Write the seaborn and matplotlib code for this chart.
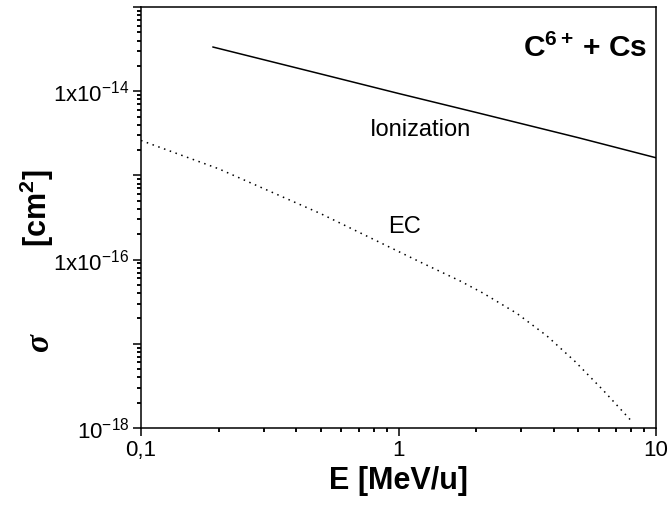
import numpy as np
import pandas as pd
import matplotlib
matplotlib.use('Agg')
import matplotlib.pyplot as plt
import matplotlib.markers as mmarkers
import seaborn as sns

# --- data (E in MeV/u, sigma in cm^2) ---
ion_E = [0.19, 0.5, 1.0, 2.0, 5.0, 10.0]
ion_sigma = [3.35e-14, 1.6e-14, 9.4e-15, 5.6e-15, 2.8e-15, 1.62e-15]

ec_E = [0.1, 0.2, 0.5, 1.21, 1.73, 2.13, 2.88, 3.76, 4.84, 6.24, 8.05]
ec_sigma = [2.6e-15, 1.2e-15, 3.5e-16, 9.4e-17, 5.6e-17, 4.0e-17, 2.3e-17,
            1.25e-17, 6.2e-18, 2.8e-18, 1.2e-18]

x_ticks = [0.1, 1, 10]
x_ticklabels = ['0,1', '1', '10']
y_ticks = [1e-18, 1e-17, 1e-16, 1e-15, 1e-14, 1e-13]
y_ticklabels = [r'$\mathregular{10^{-18}}$', '', r'$\mathregular{1x10^{-16}}$', '',
                r'$\mathregular{1x10^{-14}}$', '']

df_ion = pd.DataFrame({'E': ion_E, 'sigma': ion_sigma})
df_ec = pd.DataFrame({'E': ec_E, 'sigma': ec_sigma})

sns.set_style('ticks')
plt.rcParams['font.family'] = ['Liberation Sans', 'DejaVu Sans']
plt.rcParams['axes.linewidth'] = 1.1
plt.rcParams['text.color'] = 'black'

fig = plt.figure(figsize=(6.71, 5.12), dpi=100)
ax = fig.add_axes([141/671, 1-428/512, (656-141)/671, (428-7)/512])

sns.lineplot(data=df_ion, x='E', y='sigma', ax=ax, color='black', lw=1.1,
             estimator=None, sort=False)
sns.lineplot(data=df_ec, x='E', y='sigma', ax=ax, color='black', lw=1.1,
             ls=(0, (1, 3)), estimator=None, sort=False)

ax.set_xscale('log'); ax.set_yscale('log')

# ticks: majors every decade, minor 2..9 in every decade
minor_x = [m * 10.0**k for k in range(-1, 1) for m in range(2, 10)]
minor_y = [m * 10.0**k for k in range(-18, -13) for m in range(2, 10)]
ax.set_xticks(x_ticks); ax.set_xticklabels(x_ticklabels)
ax.set_xticks(minor_x, minor=True)
ax.set_yticks(y_ticks); ax.set_yticklabels(y_ticklabels)
ax.set_yticks(minor_y, minor=True)
ax.set_xticklabels([], minor=True); ax.set_yticklabels([], minor=True)

# minor tick marks drawn as markers on the spines, so they always show
ax.plot(minor_x, [0] * len(minor_x), transform=ax.get_xaxis_transform(),
        marker=mmarkers.TICKDOWN, ms=3.2, mew=1.1, ls='none', color='black',
        clip_on=False)
ax.plot([0] * len(minor_y), minor_y, transform=ax.get_yaxis_transform(),
        marker=mmarkers.TICKLEFT, ms=3.2, mew=1.1, ls='none', color='black',
        clip_on=False)

ax.set_xlim(0.1, 10); ax.set_ylim(1e-18, 1e-13)

ax.tick_params(which='both', direction='out', width=1.1, labelsize=16,
               top=False, right=False, left=True, bottom=True,
               color='black', labelcolor='black')
ax.tick_params(which='major', length=5.8, pad=2.5)
ax.tick_params(which='minor', length=3.2)
for s in ax.spines.values():
    s.set_color('black'); s.set_linewidth(1.1)

ax.set_xlabel('E [MeV/u]', fontsize=22, fontweight='bold', labelpad=4, color='black')
ax.set_ylabel('')
fig.text(40/671, 1-343/512, 'σ', rotation=90, ha='center', va='center',
         fontsize=24, fontweight='bold', fontstyle='italic',
         family=['Liberation Serif', 'DejaVu Serif'])
fig.text(37/671, 1-208/512, r'[cm$^{\mathregular{2}}$]', rotation=90,
         ha='center', va='center', fontsize=22, fontweight='bold')

fig.text(647/671, 1-48/512, r'C$^{\mathregular{6+}}\,$+ Cs', ha='right',
         va='center', fontsize=21.5, fontweight='bold')
fig.text(420/671, 1-130/512, 'Ionization', ha='center', va='center', fontsize=17)
fig.text(405/671, 1-227/512, 'EC', ha='center', va='center', fontsize=17)

plt.savefig('out.png', dpi=100)
